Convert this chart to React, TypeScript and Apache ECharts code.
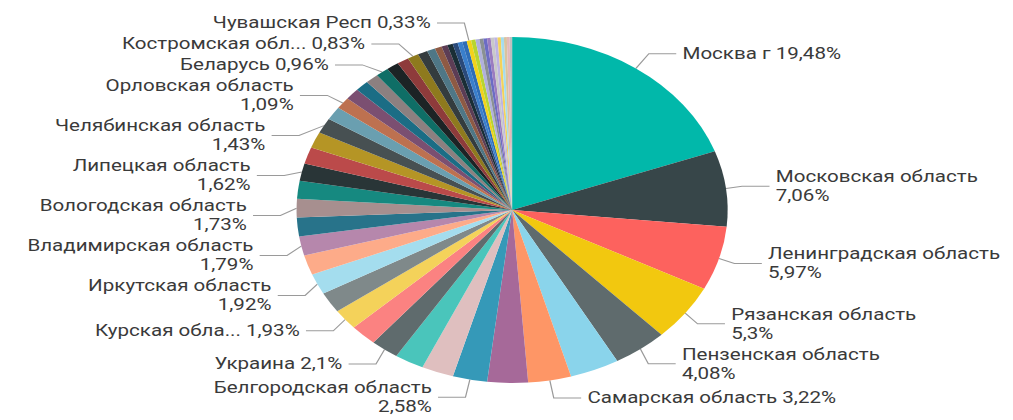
import React, { useEffect, useRef } from "react";
import * as echarts from "echarts";

// Slice names ("" = slice without a visible label in the reference)
const names: string[] = [
  "Москва г", "Московская область", "Ленинградская область", "Рязанская область", "Пензенская область",
  "", "Самарская область", "", "Белгородская область", "",
  "", "Украина", "", "Курская обла...", "",
  "Иркутская область", "", "Владимирская область", "", "Вологодская область",
  "", "Липецкая область", "", "", "Челябинская область",
  "", "Орловская область", "", "", "",
  "Беларусь", "", "", "Костромская обл...", "",
  "", "", "", "", "",
  "", "", "Чувашская Респ", "", "",
  "", "", "", "", "",
  "", "", "", "", "",
];

// Share of each slice, %
const values: number[] = [
  19.48, 7.06, 5.97, 5.3, 4.08,
  3.7, 3.22, 3.04, 2.58, 2.4,
  2.2, 2.1, 2.0, 1.93, 1.93,
  1.92, 1.85, 1.79, 1.75, 1.73,
  1.68, 1.62, 1.56, 1.5, 1.43,
  1.25, 1.09, 1.06, 1.02, 0.98,
  0.96, 0.92, 0.88, 0.83, 0.74,
  0.62, 0.52, 0.45, 0.41, 0.38,
  0.35, 0.34, 0.33, 0.32, 0.3,
  0.29, 0.28, 0.27, 0.26, 0.25,
  0.24, 0.23, 0.22, 0.21, 0.18,
];

// Labels shown on two lines
const wrappedLabels: string[] = [
  "Московская область", "Ленинградская область", "Рязанская область", "Пензенская область",
  "Белгородская область", "Иркутская область", "Владимирская область", "Вологодская область",
  "Липецкая область", "Челябинская область", "Орловская область",
];

const palette: string[] = [
  "#01B8AA", "#374649", "#FD625E", "#F2C80F", "#5F6B6D", "#8AD4EB", "#FE9666", "#A66999", "#3599B8", "#DFBFBF",
  "#4AC5BB", "#5F6B6D", "#FB8281", "#F4D25A", "#7F898A", "#A4DDEE", "#FDAB89", "#B687AC", "#28738A", "#A78F8F",
  "#168980", "#293537", "#BB4A4A", "#B59525", "#475052", "#6A9FB0", "#BD7150", "#7B4F71", "#1B6D85", "#8C8080",
  "#0F6E66", "#1C2325", "#8E3B3B", "#8E7A1E", "#343C3E", "#4F7786", "#8E5A44", "#5C3D55", "#1A2E36", "#2A4A7A",
  "#3A7FCC", "#2E6DB8", "#F2D21B", "#B8D430", "#B0B0DC", "#8A9094", "#6C6CC4", "#9B7CC0", "#C9C9C9", "#BDB4E3",
  "#F4D25A", "#A4DDEE", "#D9C39E", "#E3B9B9", "#C0C0C0",
];

const SX = 1.246; // horizontal stretch of the reference picture
const W = Math.round(1013 / SX);

export default function App() {
  const ref = useRef<HTMLDivElement>(null);
  useEffect(() => {
    if (!ref.current) return;
    const chart = echarts.init(ref.current, undefined, { renderer: "svg" });
    const data = values.map((v, i) => {
      const shown = names[i] !== "";
      return {
        name: names[i] || "—",
        value: v,
        itemStyle: { color: palette[i % palette.length] },
        label: { show: shown },
        labelLine: { show: shown },
      };
    });
    chart.setOption({
      animation: false,
      series: [
        {
          type: "pie",
          center: [411, 210],
          radius: 173,
          startAngle: 90,
          clockwise: true,
          avoidLabelOverlap: true,
          itemStyle: { borderWidth: 0 },
          label: {
            position: "outer",
            fontFamily: "Roboto",
            fontSize: 16.5,
            lineHeight: 19,
            color: "#3a3a3a",
            formatter: (p: any) => {
              const pct = String(p.value).replace(".", ",") + "%";
              return p.name + (wrappedLabels.includes(p.name) ? "\n" : " ") + pct;
            },
          },
          labelLine: {
            length: 18,
            length2: 22,
            lineStyle: { color: "#9a9a9a", width: 1 },
          },
          data,
        },
      ],
    });
    return () => chart.dispose();
  }, []);
  return (
    <div
      ref={ref}
      style={{
        position: "absolute",
        left: 0,
        top: 0,
        width: W,
        height: 420,
        transform: `scaleX(${SX})`,
        transformOrigin: "0 0",
      }}
    />
  );
}
